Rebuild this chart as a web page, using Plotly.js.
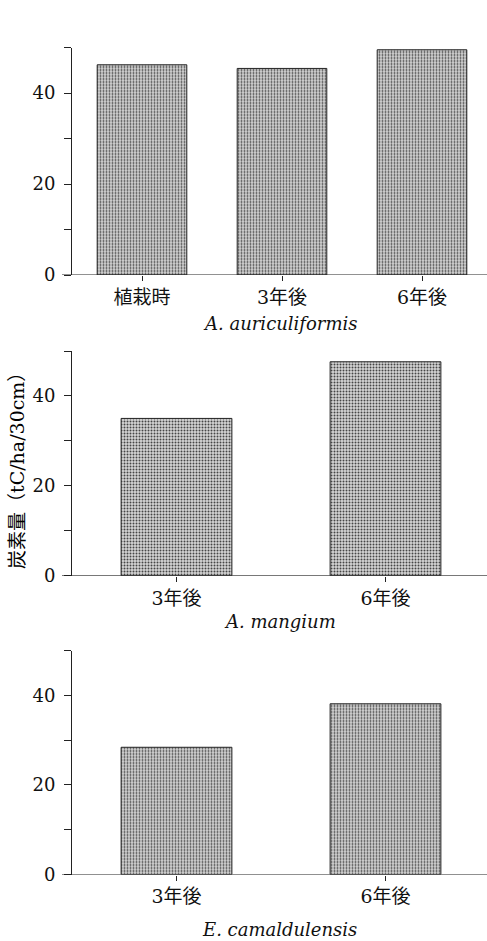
<!DOCTYPE html>
<html>
<head>
<meta charset="utf-8">
<script src="https://cdn.plot.ly/plotly-3.0.1.min.js"></script>
<style>html,body{margin:0;padding:0;background:#fff}#chart{width:487px;height:941px}</style>
</head>
<body>
<div id="chart"></div>
<script>
// ---- data ----
const cats1 = ["植栽時", "3年後", "6年後"];
const vals1 = [46.2, 45.4, 49.5];
const title1 = "A. auriculiformis";

const cats2 = ["3年後", "6年後"];
const vals2 = [35.0, 47.6];
const title2 = "A. mangium";

const cats3 = ["3年後", "6年後"];
const vals3 = [28.4, 38.1];
const title3 = "E. camaldulensis";

const yTickVals = [0, 10, 20, 30, 40, 50];
const yTickText = ["0", "", "20", "", "40", ""];
const yTitle = "炭素量（tC/ha/30cm）";

// ---- styling ----
const W = 487, H = 941, L = 72;
const plotW = W - L;
const FONT = "'DejaVu Serif', 'Noto Sans CJK JP', serif";
const ink = "#222";
const txt = "#111";

const pattern = {shape: ".", size: 3, solidity: 0.35, fgcolor: "#454545", bgcolor: "#d6d6d6"};

function bar(x, y, xa, ya, w) {
  return {
    type: "bar", x: x, y: y, xaxis: xa, yaxis: ya, width: w,
    marker: {color: "#d6d6d6", pattern: pattern, line: {color: ink, width: 1}},
    hoverinfo: "skip", showlegend: false
  };
}

function yax(bottomPx, topPx, anchor) {
  return {
    domain: [(H - bottomPx) / H, (H - topPx) / H],
    anchor: anchor, range: [0, 50],
    tickmode: "array", tickvals: yTickVals, ticktext: yTickText,
    ticks: "outside", ticklen: 7, tickcolor: ink, tickwidth: 1,
    showline: true, linecolor: ink, linewidth: 1,
    showgrid: false, zeroline: false,
    ticklabelstandoff: 5,
    tickfont: {family: FONT, size: 18, color: txt}
  };
}

function xax(anchor, pxPerCat) {
  return {
    anchor: anchor, type: "category",
    range: [-0.5, -0.5 + plotW / pxPerCat],
    ticks: "outside", ticklen: 5, tickcolor: ink, tickwidth: 1,
    showline: false, showgrid: false, zeroline: false,
    ticklabelstandoff: 0,
    tickfont: {family: FONT, size: 19, color: txt}
  };
}

const data = [
  bar(cats1, vals1, "x", "y", 0.64),
  bar(cats2, vals2, "x2", "y2", 0.53),
  bar(cats3, vals3, "x3", "y3", 0.53)
];

function baseLine(yref) {
  return {type: "line", xref: "paper", yref: yref, x0: -10 / plotW, x1: 1, y0: 0, y1: 0,
          line: {color: ink, width: 1}};
}

function xTitle(text, yPx) {
  return {text: text, xref: "paper", yref: "paper", x: 0.5, y: (H - yPx) / H,
          xanchor: "center", yanchor: "middle", showarrow: false,
          font: {family: FONT, size: 18, color: txt, style: "italic"}};
}

const layout = {
  width: W, height: H,
  margin: {l: L, r: 0, t: 0, b: 0},
  paper_bgcolor: "#fff", plot_bgcolor: "rgba(0,0,0,0)",
  showlegend: false,
  xaxis: xax("y", 140),
  yaxis: yax(275, 47.5, "x"),
  xaxis2: xax("y2", 209),
  yaxis2: yax(575.7, 351, "x2"),
  xaxis3: xax("y3", 209),
  yaxis3: yax(874.5, 650.5, "x3"),
  shapes: [baseLine("y"), baseLine("y2"), baseLine("y3")],
  annotations: [
    xTitle(title1, 323),
    xTitle(title2, 621),
    xTitle(title3, 929),
    {text: yTitle, xref: "paper", yref: "paper", x: (17 - L) / plotW, y: (H - 466) / H,
     xanchor: "center", yanchor: "middle", textangle: -90, showarrow: false,
     font: {family: FONT, size: 19, color: "#000"}}
  ]
};

Plotly.newPlot("chart", data, layout, {staticPlot: true, displayModeBar: false});
</script>
</body>
</html>
